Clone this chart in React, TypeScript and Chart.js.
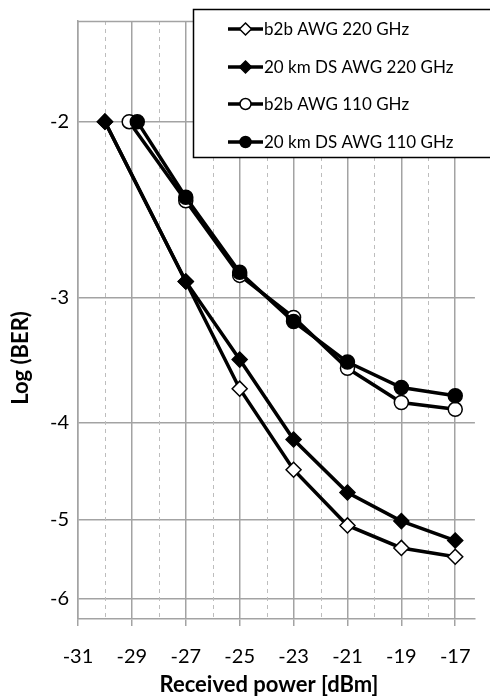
import { useEffect, useRef } from "react";
import { Chart, registerables } from "chart.js";

Chart.register(...registerables);

// ---- data ----
const seriesLabels = [
  "b2b AWG 220 GHz",
  "20 km DS AWG 220 GHz",
  "b2b AWG 110 GHz",
  "20 km DS AWG 110 GHz",
];
const b2b220X = [-30, -27, -25, -23, -21, -19, -17];
const b2b220Y = [-2, -2.89, -3.7, -4.46, -5.07, -5.34, -5.45];
const ds220X = [-30, -27, -25, -23, -21, -19, -17];
const ds220Y = [-2, -2.89, -3.46, -4.16, -4.7, -5.02, -5.25];
const b2b110X = [-29.1, -27, -25, -23, -21, -19, -17];
const b2b110Y = [-2, -2.4, -2.85, -3.14, -3.53, -3.82, -3.88];
const ds110X = [-28.8, -27, -25, -23, -21, -19, -17];
const ds110Y = [-2, -2.38, -2.83, -3.17, -3.48, -3.69, -3.76];

const xLabelTicks = [-31, -29, -27, -25, -23, -21, -19, -17];
const xMinorTicks = [-30, -28, -26, -24, -22, -20, -18];
const yTicks = [-2, -3, -4, -5, -6];

const xTitle = "Received power [dBm]";
const yTitle = "Log (BER)";

const FONT = "Lato, 'Open Sans', sans-serif";
const GRID = "#a3a3a3";
const DASH = "#bdbdbd";

const makePts = (xs: number[], ys: number[]) =>
  xs.map((x, i) => ({ x, y: -ys[i] }));

export default function App() {
  const ref = useRef<HTMLCanvasElement | null>(null);

  useEffect(() => {
    document.body.style.margin = "0";
    const canvas = ref.current!;
    const styles = [
      { style: "rectRot", fill: "#ffffff", r: 7.5 },
      { style: "rectRot", fill: "#000000", r: 7.5 },
      { style: "circle", fill: "#ffffff", r: 7 },
      { style: "circle", fill: "#000000", r: 7 },
    ];
    const sets = [
      makePts(b2b220X, b2b220Y),
      makePts(ds220X, ds220Y),
      makePts(b2b110X, b2b110Y),
      makePts(ds110X, ds110Y),
    ];

    const decor = {
      id: "decor",
      beforeDatasetsDraw(chart: any) {
        const { ctx, chartArea, scales } = chart;
        ctx.save();
        ctx.strokeStyle = DASH;
        ctx.lineWidth = 1;
        ctx.setLineDash([4, 4]);
        for (const v of xMinorTicks) {
          const px = Math.round(scales.x.getPixelForValue(v)) + 0.5;
          ctx.beginPath();
          ctx.moveTo(px, chartArea.top);
          ctx.lineTo(px, chartArea.bottom);
          ctx.stroke();
        }
        ctx.setLineDash([]);
        ctx.strokeStyle = GRID;
        ctx.lineWidth = 1.5;
        ctx.beginPath();
        ctx.moveTo(chartArea.left, chartArea.top + 0.5);
        ctx.lineTo(chartArea.right, chartArea.top + 0.5);
        ctx.stroke();
        ctx.restore();
      },
      afterDraw(chart: any) {
        const { ctx } = chart;
        ctx.save();
        // axis titles
        ctx.fillStyle = "#000";
        ctx.font = `bold 22px ${FONT}`;
        ctx.textAlign = "center";
        ctx.textBaseline = "middle";
        ctx.fillText(xTitle, 269, 685);
        ctx.translate(21, 358);
        ctx.rotate(-Math.PI / 2);
        ctx.fillText(yTitle, 0, 0);
        ctx.restore();

        // legend
        ctx.save();
        ctx.fillStyle = "#fff";
        ctx.strokeStyle = "#000";
        ctx.lineWidth = 1.5;
        ctx.fillRect(193, 9, 300, 148);
        ctx.strokeRect(193.5, 9.5, 300, 148);
        const rows = [29, 67, 104, 142];
        chart.data.datasets.forEach((ds: any, i: number) => {
          const y = rows[i];
          ctx.strokeStyle = "#000";
          ctx.lineWidth = 3.5;
          ctx.beginPath();
          ctx.moveTo(228, y);
          ctx.lineTo(263, y);
          ctx.stroke();
          ctx.fillStyle = styles[i].fill;
          ctx.lineWidth = 1.5;
          ctx.beginPath();
          if (styles[i].style === "circle") {
            ctx.arc(245.5, y, 5.5, 0, Math.PI * 2);
          } else {
            ctx.moveTo(245.5, y - 6);
            ctx.lineTo(251.5, y);
            ctx.lineTo(245.5, y + 6);
            ctx.lineTo(239.5, y);
            ctx.closePath();
          }
          ctx.fill();
          ctx.stroke();
          ctx.fillStyle = "#000";
          ctx.font = `17px ${FONT}`;
          ctx.textAlign = "left";
          ctx.textBaseline = "middle";
          ctx.fillText(ds.label, 264, y + 1);
        });
        ctx.restore();
      },
    };

    const chart = new Chart(canvas, {
      type: "line",
      data: {
        datasets: sets.map((d, i) => ({
          label: seriesLabels[i],
          data: d,
          order: 4 - i,
          borderColor: "#000",
          borderWidth: 3.5,
          pointStyle: styles[i].style as any,
          pointRadius: styles[i].r,
          pointBackgroundColor: styles[i].fill,
          pointBorderColor: "#000",
          pointBorderWidth: 1.5,
          tension: 0,
          fill: false,
        })),
      },
      options: {
        animation: false,
        responsive: false,
        layout: { padding: { top: 5, right: 0, left: 0, bottom: 0 } },
        plugins: {
          legend: { display: false },
          tooltip: { enabled: false },
        },
        scales: {
          x: {
            type: "linear",
            min: -31,
            max: -16.27,
            afterBuildTicks: (s: any) => {
              s.ticks = xLabelTicks.map((v) => ({ value: v }));
            },
            afterFit: (s: any) => {
              s.height = 79;
            },
            ticks: {
              font: { family: FONT, size: 20 },
              color: "#000",
              padding: 19,
              maxRotation: 0,
              autoSkip: false,
              callback: (v: any) => String(v),
            },
            grid: {
              color: GRID,
              lineWidth: 1.5,
              tickLength: 7,
              tickColor: GRID,
            },
            border: { color: GRID, width: 1.5 },
          },
          y: {
            type: "logarithmic",
            reverse: true,
            min: 1.586,
            max: 6.29,
            afterBuildTicks: (s: any) => {
              s.ticks = yTicks.map((v) => ({ value: -v }));
            },
            afterFit: (s: any) => {
              s.width = 78;
            },
            ticks: {
              font: { family: FONT, size: 20 },
              color: "#000",
              padding: 9,
              autoSkip: false,
              callback: (v: any) => "-" + String(v),
            },
            grid: { color: GRID, lineWidth: 1.5, drawTicks: false },
            border: { color: GRID, width: 1.5 },
          },
        },
      },
      plugins: [decor],
    });
    return () => chart.destroy();
  }, []);

  return (
    <div style={{ width: 490, height: 698 }}>
      <canvas ref={ref} width={490} height={698} style={{ display: "block" }} />
    </div>
  );
}
